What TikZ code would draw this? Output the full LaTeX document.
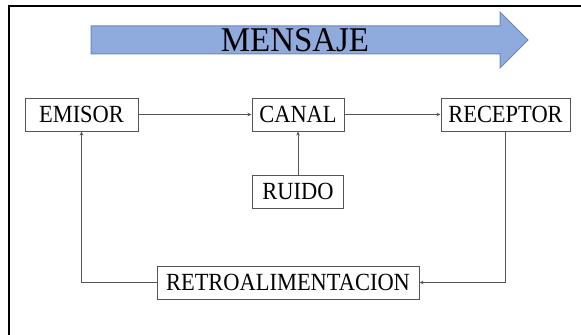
\documentclass[tikz,border=0pt]{standalone}
\usepackage{fontspec}
\setmainfont{Liberation Serif}
\usetikzlibrary{arrows.meta}
\definecolor{arrowfill}{RGB}{143,170,220}
\definecolor{arrowedge}{RGB}{105,135,195}
\definecolor{linegray}{RGB}{85,85,85}
\newcommand{\narrowtxt}[2]{\scalebox{#1}[1]{#2}}
\tikzset{
  blockbox/.style={draw=linegray, line width=0.75pt, fill=white, inner sep=0pt,
    minimum height=24.75pt, font=\fontsize{18.5}{18.5}\selectfont},
  conn/.style={draw=linegray, line width=0.75pt, -{Stealth[length=3pt,width=2.6pt]}},
}
\begin{document}
\begin{tikzpicture}[x=0.75pt,y=-0.75pt]
\useasboundingbox (0,0) rectangle (581,335);
% frame
\draw[black, line width=1pt] (9,335) -- (9,6) -- (581,6);
% big arrow
\draw[fill=arrowfill, draw=arrowedge, line width=0.75pt]
  (91,26) -- (500,26) -- (500,12) -- (528,40) -- (500,68) -- (500,54) -- (91,54) -- cycle;
\node[font=\fontsize{26}{26}\selectfont, inner sep=0pt] (mensaje) at (295,40) {\narrowtxt{0.95}{MENSAJE}};
% blocks
\node[blockbox, minimum width=84.75pt] (emisor) at (81.5,114.5) {\narrowtxt{0.91}{EMISOR}};
\node[blockbox, minimum width=69pt] (canal) at (298,114.5) {\narrowtxt{0.91}{CANAL}};
\node[blockbox, minimum width=96.75pt] (receptor) at (505.5,114.5) {\narrowtxt{0.91}{RECEPTOR}};
\node[blockbox, minimum width=68.25pt] (ruido) at (298,191.5) {\narrowtxt{0.91}{RUIDO}};
\node[blockbox, minimum width=196.5pt] (retro) at (288,282.5) {\narrowtxt{0.91}{RETROALIMENTACION}};
% connectors
\draw[conn] (emisor) -- (canal);
\draw[conn] (canal) -- (receptor);
\draw[conn] (ruido) -- (canal);
\draw[conn] (receptor.south) |- (retro.east);
\draw[conn] (retro.west) -| (emisor.south);
\end{tikzpicture}
\end{document}
